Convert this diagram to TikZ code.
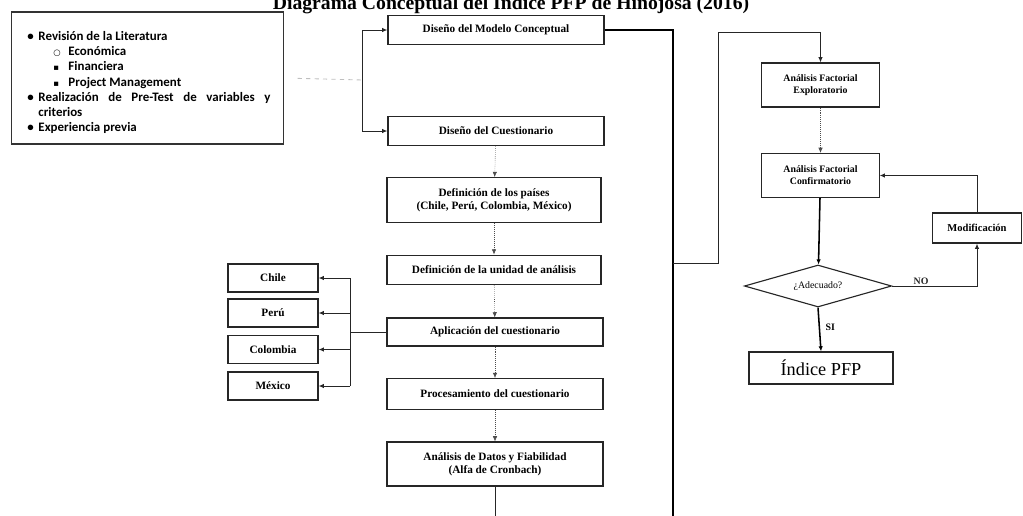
\documentclass[tikz,border=0pt]{standalone}
\usepackage{fontspec}
\setmainfont{Liberation Serif}
\newfontfamily\litfont{Carlito}
\newfontfamily\symfont{DejaVu Sans}
\usetikzlibrary{
  arrows.meta,
  positioning,
  shapes.geometric
}
\newcommand\litbul{\par\noindent\hangindent=2.8mm\hangafter=1\makebox[2.8mm][l]{•}}
\newcommand\litsub[1]{\par\noindent\hspace*{6.5mm}\makebox[3.8mm][l]{\symfont\fontsize{6}{6}\selectfont #1}}
\tikzset{
  >={Latex[length=1.3mm, width=1.1mm]},
  box/.style = {rectangle, draw=black!85, line width=.8pt,
      minimum width=5.4cm, minimum height=#1,
      align=center, inner sep=1pt,
      font=\fontsize{8}{9.5}\selectfont\bfseries},
  box/.default = 7.3mm, % height of the box
  pais/.style = {box=7mm, minimum width=2.25cm},
  fase/.style = {box=#1, minimum width=2.93cm,
      font=\fontsize{7}{8.5}\selectfont\bfseries},
  fase/.default = 11mm,
  flow/.style = {densely dotted, black!70, ->},
  link/.style = {black!85, line width=.7pt},
  strong/.style = {black, line width=1.1pt},
  faint/.style = {gray!50, dashed, line width=.6pt},
  lbl/.style = {font=\fontsize{7}{8}\selectfont\bfseries, inner sep=1pt},
}

\begin{document}
\begin{tikzpicture}[x=0.025cm, y=-0.025cm]
  \useasboundingbox (0,0) rectangle (1023,515);

  \node[anchor=base, font=\fontsize{14}{16}\selectfont\bfseries] (title) at (511,9)
  {Diagrama Conceptual del Índice PFP de Hinojosa (2016)};

  % revision de la literatura
  \node[draw=black!80, line width=.8pt, minimum width=6.78cm, minimum height=3.3cm] (lit) at (147.5,78) {};
  \node[anchor=north west, inner sep=0pt, text width=6.08cm, align=justify,
    font=\litfont\bfseries\fontsize{9.2}{10.8}\selectfont] (littext) at (27,25) {%
    \litbul Revisión de la Literatura
    \litsub{○}Económica
    \litsub{▪}Financiera
    \litsub{▪}Project Management
    \litbul Realización de \mbox{Pre-Test} de variables y \mbox{criterios}
    \litbul Experiencia previa\par};

  % columna central
  \node[box] (modelo) at (496,30) {Diseño del Modelo Conceptual};
  \node[box] (cuest) at (496,131) {Diseño del Cuestionario};
  \node[box=11.2mm, minimum width=5.35cm] (paises) at (494,200) {Definición de los países\\(Chile, Perú, Colombia, México)};
  \node[box, minimum width=5.35cm, line width=1.2pt] (unidad) at (494,270) {Definición de la unidad de análisis};
  \node[box=7mm] (aplic) at (495,332) {Aplicación del cuestionario};
  \node[box=7.7mm] (proc) at (495,394) {Procesamiento del cuestionario};
  \node[box=11mm] (datos) at (495,464) {Análisis de Datos y Fiabilidad\\(Alfa de Cronbach)};

  % paises
  \node[pais] (chile) at (273,278) {Chile};
  \node[pais] (peru) at (273,313) {Perú};
  \node[pais] (colombia) at (273,349.5) {Colombia};
  \node[pais] (mexico) at (273,386) {México};

  % columna derecha
  \node[fase] (explor) at (820.5,85) {Análisis Factorial\\Exploratorio};
  \node[fase] (confir) at (820.5,175.5) {Análisis Factorial\\Confirmatorio};
  \node[fase=7.5mm, minimum width=2.22cm, font=\fontsize{7.5}{9}\selectfont\bfseries] (modif) at (977,228) {Modificación};
  \node[diamond, aspect=3.5, draw=black!85, line width=.8pt, inner sep=0pt,
    minimum width=3.68cm, minimum height=1.05cm,
    font=\fontsize{7}{8}\selectfont] (adec) at (818,286) {¿Adecuado?};
  \node[box=8mm, minimum width=3.6cm, font=\fontsize{13}{15}\selectfont] (indice) at (821,368) {Índice PFP};

  \coordinate (loopmid) at (363,80);
  \coordinate (bus) at (350,332);
  \coordinate (dout) at (495,520);
  \coordinate (bigdown) at (673,520);
  \coordinate (tap) at (673,263);
  \coordinate (turn) at (718,32);

  \draw[faint, shorten <=3.5mm] (lit.east) -- (loopmid);
  \draw[link, <->] (modelo.west) -- ++(-25,0) |- (cuest.west);

  \draw[flow] (cuest) -- (paises);
  \draw[flow] (paises) -- (unidad);
  \draw[flow] (unidad) -- (aplic);
  \draw[flow] (aplic) -- (proc);
  \draw[flow] (proc) -- (datos);
  \draw[link] (datos.south) -- (dout);

  \draw[link] (aplic.west) -- (bus);
  \draw[link] (bus |- chile.east) -- (bus |- mexico.east);
  \foreach \c in {chile, peru, colombia, mexico}
  \draw[link, ->] (bus |- \c.east) -- (\c.east);

  \draw[strong] (modelo.east) -| (bigdown);
  \draw[link, line width=.6pt, ->] (tap) -| (turn) -| (explor.north);

  \draw[flow] (explor) -- (confir);
  \draw[strong, ->] (confir) -- (adec);
  \draw[link, ->] (adec.east) -| node[lbl, pos=.17, above] {NO} (modif.south);
  \draw[link, ->] (modif.north) |- (confir.east);
  \draw[strong, ->] (adec.south) -- node[lbl, right=1mm, pos=.45] {SI} (indice.north);
\end{tikzpicture}
\end{document}
